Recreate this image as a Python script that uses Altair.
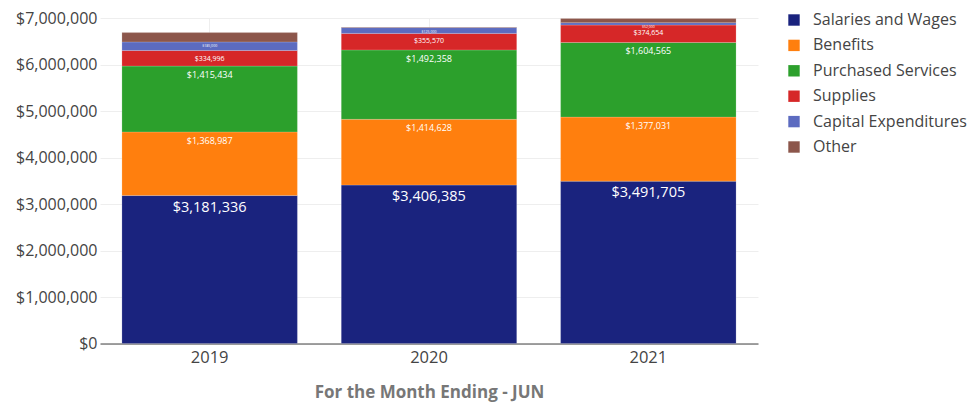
import altair as alt
import pandas as pd

years = ["2019", "2020", "2021"]
categories = ["Salaries and Wages", "Benefits", "Purchased Services",
              "Supplies", "Capital Expenditures", "Other"]
salaries = [3181336, 3406385, 3491705]
benefits = [1368987, 1414628, 1377031]
purchased = [1415434, 1492358, 1604565]
supplies = [334996, 355570, 374654]
capital = [185000, 125000, 52000]
other = [200000, 12000, 90000]

colors = ["#1a237e", "#ff7f0e", "#2ca02c", "#d62728", "#5c6bc0", "#8c564b"]
y_ticks = [0, 1000000, 2000000, 3000000, 4000000, 5000000, 6000000, 7000000]

series = [salaries, benefits, purchased, supplies, capital, other]
rows = []
for ci, (cat, vals) in enumerate(zip(categories, series)):
    for yr, v in zip(years, vals):
        rows.append({"year": yr, "category": cat, "idx": ci, "value": v})
df = pd.DataFrame(rows)

FONT = "Open Sans"

base = alt.Chart(df).transform_stack(
    stack="value", groupby=["year"], as_=["y0", "y1"],
    sort=[alt.SortField("idx", order="ascending")]
)

x_axis = alt.Axis(labelAngle=0, labelFontSize=16.5, labelColor="#444",
                  labelFont=FONT, labelPadding=5.5, tickSize=0,
                  domainColor="#444", domainWidth=1.2,
                  grid=True, gridColor="#eee", bandPosition=0.5,
                  titleFont=FONT, titleFontSize=17, titleFontWeight="bold",
                  titleColor="#777", titlePadding=19)
y_axis = alt.Axis(format="$,.0f", values=y_ticks,
                  labelFontSize=16, labelColor="#444", labelFont=FONT,
                  labelPadding=3, tickSize=0, domain=False,
                  labelOverlap=False, gridColor="#eee")
x_scale = alt.Scale(paddingInner=0.2, paddingOuter=0.1)
y_scale = alt.Scale(domain=[0, 7000000], nice=False)


def x_enc():
    return alt.X("year:N", title="For the Month Ending - JUN", scale=x_scale, axis=x_axis)


def y_enc():
    return alt.Y("y1:Q", title=None, scale=y_scale, axis=y_axis)


bars = base.mark_bar(stroke="white", strokeWidth=0.3, strokeOpacity=0.6).encode(
    x=x_enc(),
    y=y_enc(),
    y2="y0:Q",
    color=alt.Color("category:N", title=None,
                    scale=alt.Scale(domain=categories, range=colors),
                    legend=alt.Legend(orient="none", legendX=686, legendY=-6,
                                      symbolType="square", symbolSize=130,
                                      symbolStrokeWidth=0, labelFontSize=16,
                                      labelFont=FONT, labelColor="#444",
                                      labelLimit=220,
                                      labelOffset=11, rowPadding=9.4, padding=0)),
)


def label_layer(cats, fsize, dy):
    return base.transform_filter(
        alt.FieldOneOfPredicate(field="category", oneOf=cats)
    ).mark_text(
        baseline="top", align="center", dy=dy, color="white", font=FONT,
        fontSize=fsize
    ).encode(
        x=x_enc(),
        y=y_enc(),
        text=alt.Text("value:Q", format="$,.0f"),
    )


texts = [
    label_layer([categories[0]], 14.5, 5),
    label_layer(categories[1:3], 9, 5),
    label_layer([categories[3]], 7, 4),
    label_layer([categories[4]], 3.5, 2),
]

chart = alt.layer(bars, *texts).properties(
    width=658, height=325.5,
    autosize=alt.AutoSizeParams(type="none"),
    padding={"left": 92, "top": 10, "right": 212, "bottom": 59},
).configure_view(stroke=None)

chart.save("out.html", embed_options={"renderer": "svg", "actions": False})
